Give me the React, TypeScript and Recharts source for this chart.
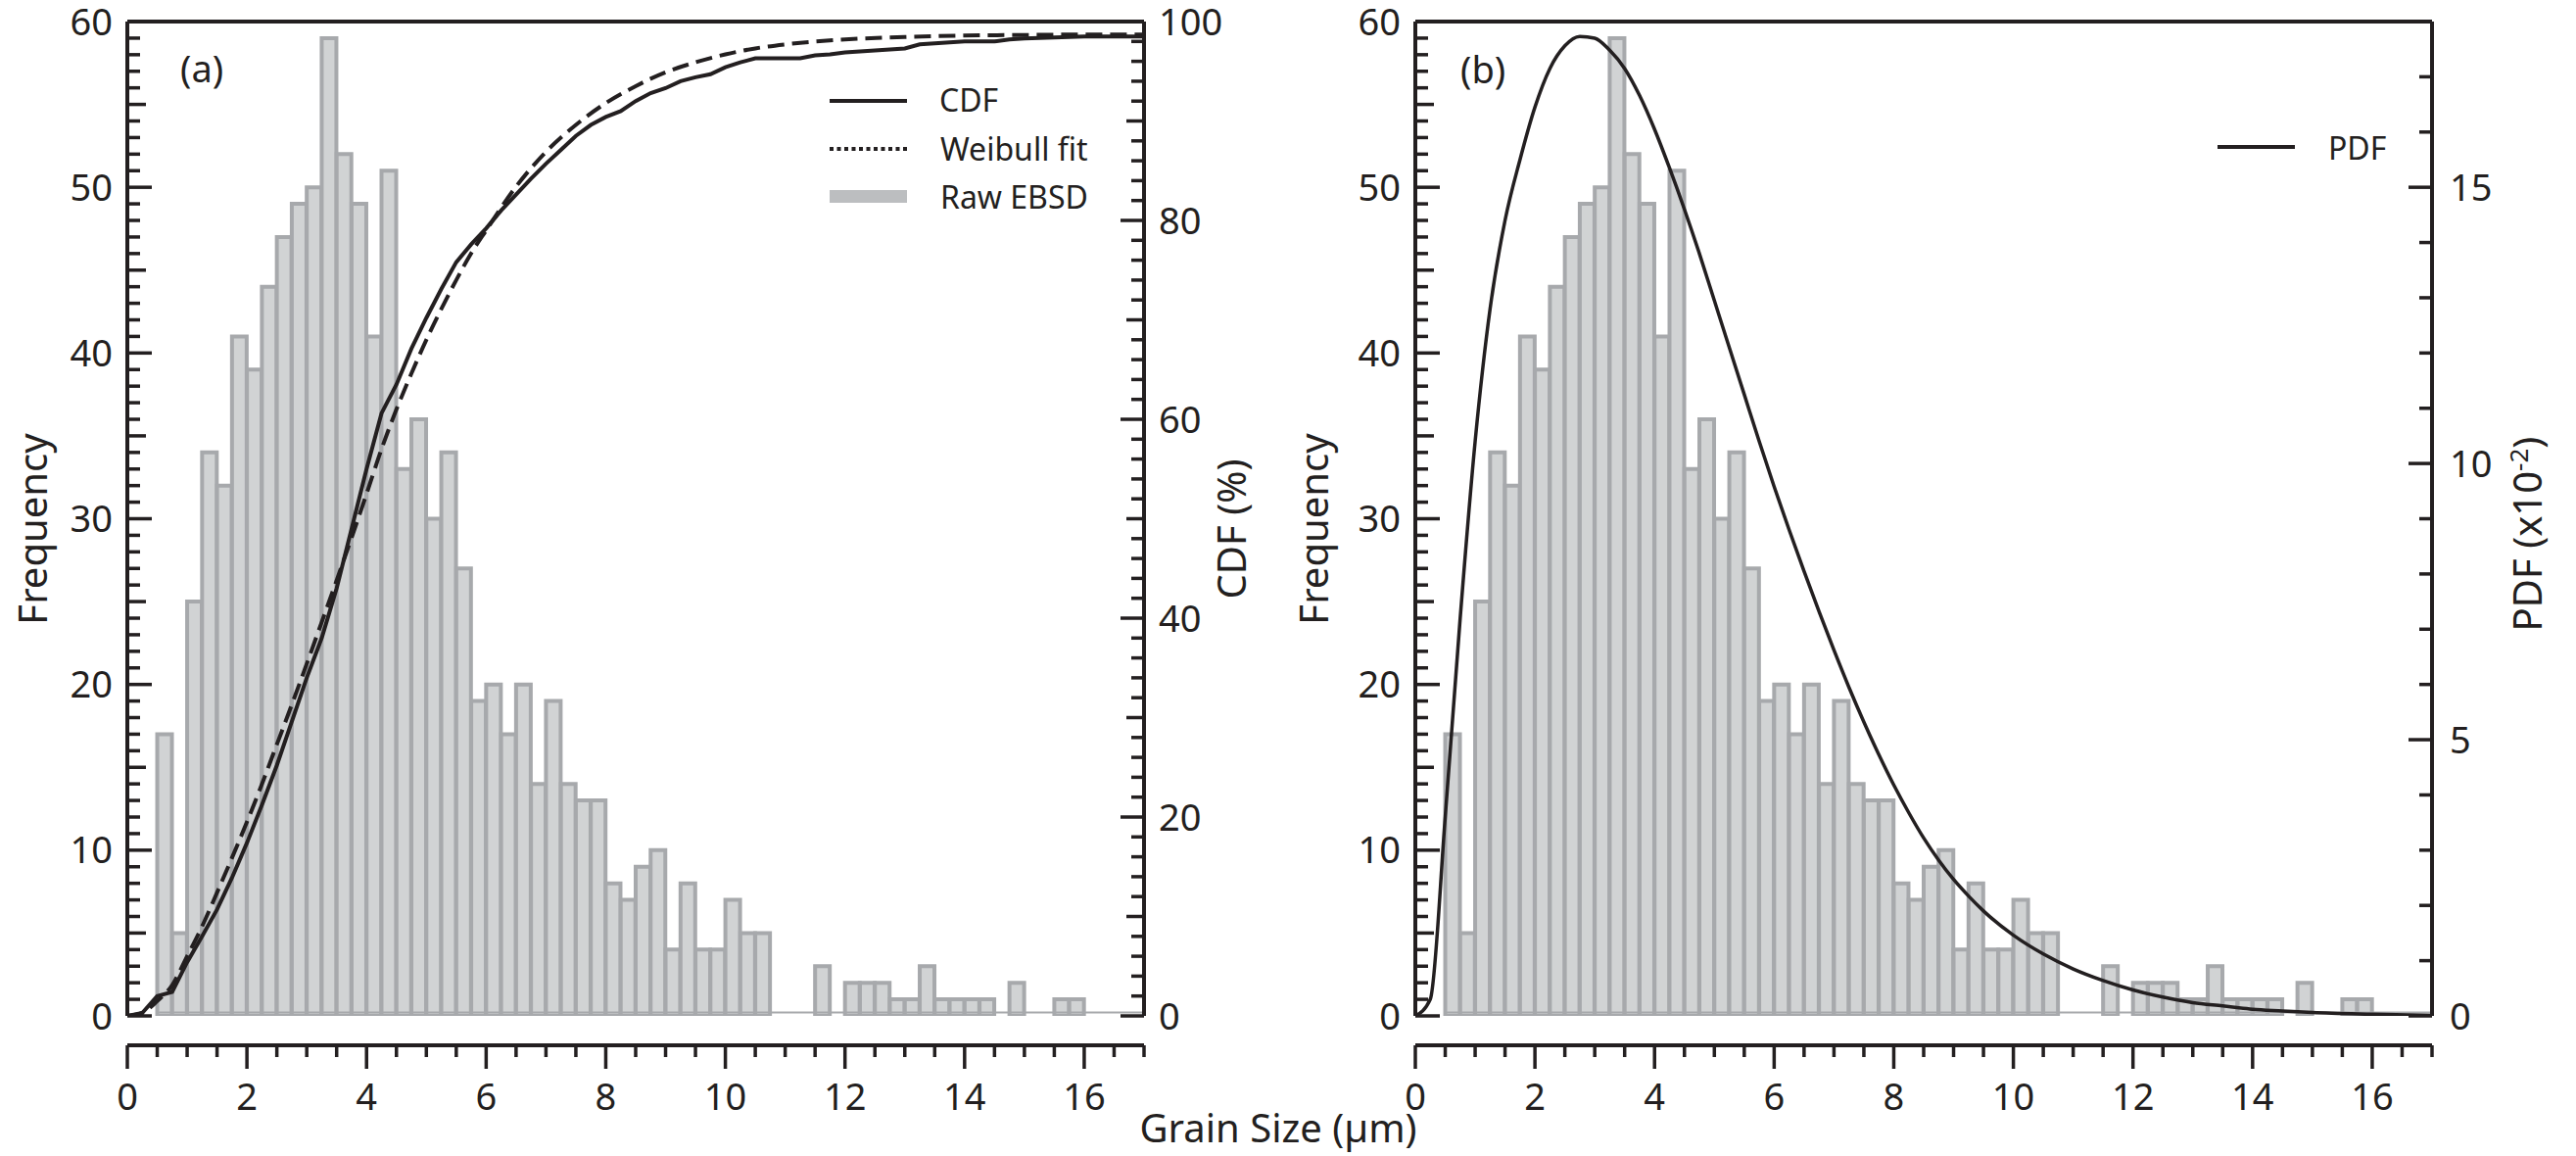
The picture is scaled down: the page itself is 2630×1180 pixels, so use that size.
import React from 'react';
import { ComposedChart, Bar, Line, XAxis, YAxis, ReferenceLine, Legend } from 'recharts';

// grain-size histogram: bins of 0.25 µm from 0 to 17 µm
const binWidth = 0.25;
const counts = [
  0, 0, 17, 5, 25, 34, 32, 41, 39, 44, 47, 49, 50, 59, 52, 49,
  41, 51, 33, 36, 30, 34, 27, 19, 20, 17, 20, 14, 19, 14, 13, 13,
  8, 7, 9, 10, 4, 8, 4, 4, 7, 5, 5, 0, 0, 0, 3, 0,
  2, 2, 2, 1, 1, 3, 1, 1, 1, 1, 0, 2, 0, 0, 1, 1,
  0, 0, 0, 0,
];

// empirical CDF (%)
const cdfGrain = [
  0, 0.25, 0.5, 0.75, 1, 1.25, 1.5, 1.75, 2, 2.25, 2.5, 2.75, 3, 3.25, 3.5, 3.75,
  4, 4.25, 4.5, 4.75, 5, 5.25, 5.5, 5.75, 6, 6.25, 6.5, 6.75, 7, 7.25, 7.5, 7.75,
  8, 8.25, 8.5, 8.75, 9, 9.25, 9.5, 9.75, 10, 10.25, 10.5, 10.75, 11, 11.25, 11.5, 11.75,
  12, 12.25, 12.5, 12.75, 13, 13.25, 13.5, 13.75, 14, 14.25, 14.5, 14.75, 15, 15.5, 16, 17,
];
const cdfValues = [
  0, 0.3, 2.0, 2.4, 5.4, 8.0, 10.7, 13.9, 17.4, 21.2, 25.2, 29.6, 34.0, 38.0, 43.0, 49.0,
  55.0, 60.6, 63.5, 67.1, 70.2, 73.1, 75.8, 77.6, 79.2, 81.0, 82.6, 84.2, 85.7, 87.1, 88.5, 89.6,
  90.4, 91.0, 92.0, 92.8, 93.3, 94.0, 94.4, 94.7, 95.4, 95.9, 96.3, 96.3, 96.3, 96.3, 96.6, 96.7,
  96.9, 97.0, 97.1, 97.2, 97.3, 97.7, 97.8, 97.9, 98.0, 98.0, 98.0, 98.2, 98.3, 98.4, 98.5, 98.5,
];

// Weibull fit CDF (%)
const weibullGrain = [
  0, 0.25, 0.5, 0.75, 1, 1.25, 1.5, 1.75, 2, 2.25, 2.5, 2.75, 3, 3.25, 3.5, 3.75,
  4, 4.25, 4.5, 4.75, 5, 5.25, 5.5, 5.75, 6, 6.5, 7, 7.5, 8, 8.5, 9, 9.5,
  10, 10.5, 11, 12, 13, 14, 15, 16, 17,
];
const weibullValues = [
  0, 0.3, 1.5, 3.1, 6.0, 9.0, 12.4, 15.9, 19.5, 23.3, 27.3, 31.3, 35.4, 39.6, 43.8, 48.1,
  52.5, 57.0, 61.0, 64.6, 68.0, 71.1, 74.0, 76.7, 79.0, 83.4, 86.9, 89.6, 91.8, 93.5, 94.9, 95.9,
  96.7, 97.3, 97.7, 98.2, 98.45, 98.6, 98.65, 98.7, 98.7,
];

// fitted PDF (x10^-2)
const pdfGrain = [
  0, 0.25, 0.5, 0.75, 1, 1.25, 1.5, 1.75, 2, 2.25, 2.5, 2.75, 3, 3.25, 3.5, 3.75,
  4, 4.25, 4.5, 4.75, 5, 5.25, 5.5, 5.75, 6, 6.25, 6.5, 6.75, 7, 7.25, 7.5, 7.75,
  8, 8.25, 8.5, 8.75, 9, 9.25, 9.5, 10, 10.5, 11, 11.5, 12, 12.5, 13, 13.5, 14,
  14.5, 15, 16, 17,
];
const pdfValues = [
  0, 0.3, 3.6, 7.2, 10.4, 12.8, 14.4, 15.5, 16.45, 17.15, 17.56, 17.73, 17.7, 17.48, 17.15, 16.66,
  16.05, 15.35, 14.6, 13.8, 12.95, 12.1, 11.25, 10.4, 9.58, 8.8, 8.05, 7.32, 6.62, 5.95, 5.32, 4.73,
  4.18, 3.68, 3.22, 2.82, 2.47, 2.17, 1.9, 1.46, 1.12, 0.85, 0.64, 0.47, 0.34, 0.24, 0.18, 0.12,
  0.09, 0.06, 0.03, 0.01,
];

const histData = counts.map((count, i) => ({ bin: (i + 0.5) * binWidth, count }));
const cdfData = cdfGrain.map((grain, i) => ({ grain, cdf: cdfValues[i] }));
const weibullData = weibullGrain.map((grain, i) => ({ grain, fit: weibullValues[i] }));
const pdfData = pdfGrain.map((grain, i) => ({ grain, pdf: pdfValues[i] }));

const INK = '#231f20';
const BAR_FILL = '#d1d3d4';
const BAR_EDGE = '#a7a9ac';
const FONT = "'Noto Sans', 'DejaVu Sans', sans-serif";
const H = 1180;
const X_MAX = 17;

const range = (from: number, to: number, step: number) => {
  const out: number[] = [];
  for (let v = from; v <= to + 1e-9; v += step) out.push(Math.round(v * 100) / 100);
  return out;
};
const xTicks = range(0, X_MAX, 0.5);
const freqTicks = range(0, 60, 1);
const cdfTicks = range(0, 100, 2);
const pdfTicks = range(0, 18, 1);

const labelStyle = { fontFamily: FONT, fontSize: 38, fill: INK };

const BottomTick = ({ x, y, payload }: any) => {
  const v = payload.value;
  const major = v % 2 === 0;
  return (
    <g>
      <line x1={x} x2={x} y1={y} y2={y + (major ? 24 : 12)} stroke={INK} strokeWidth={3.5} />
      {major && v <= 16 && (
        <text x={x} y={y + 66} textAnchor="middle" {...labelStyle}>{v}</text>
      )}
    </g>
  );
};

const LeftTick = ({ x, y, payload }: any) => {
  const v = payload.value;
  const len = v % 10 === 0 ? 25 : v % 5 === 0 ? 19 : 13;
  return (
    <g>
      <line x1={x} x2={x + len} y1={y} y2={y} stroke={INK} strokeWidth={3.5} />
      {v % 10 === 0 && (
        <text x={x - 15} y={y + 13.5} textAnchor="end" {...labelStyle}>{v}</text>
      )}
    </g>
  );
};

const CdfTick = ({ x, y, payload }: any) => {
  const v = payload.value;
  const len = v % 20 === 0 ? 24 : v % 10 === 0 ? 18 : 13;
  return (
    <g>
      <line x1={x} x2={x - len} y1={y} y2={y} stroke={INK} strokeWidth={3.5} />
      {v % 20 === 0 && (
        <text x={x + 15} y={y + 13.5} textAnchor="start" {...labelStyle}>{v}</text>
      )}
    </g>
  );
};

const PdfTick = ({ x, y, payload }: any) => {
  const v = payload.value;
  const major = v % 5 === 0;
  return (
    <g>
      <line x1={x} x2={x - (major ? 24 : 13)} y1={y} y2={y} stroke={INK} strokeWidth={3.5} />
      {major && (
        <text x={x + 18} y={y + 13.5} textAnchor="start" {...labelStyle}>{v}</text>
      )}
    </g>
  );
};

const legendText = { fontFamily: FONT, fontSize: 32, fill: INK };

const LegendA = () => (
  <svg width={340} height={150}>
    <line x1={7} x2={86} y1={23} y2={23} stroke={INK} strokeWidth={4} />
    <text x={119} y={34} {...legendText}>CDF</text>
    <line x1={7} x2={86} y1={72} y2={72} stroke={INK} strokeWidth={4} strokeDasharray="4 3.5" />
    <text x={120} y={84} {...legendText}>Weibull fit</text>
    <rect x={7} y={114} width={79} height={13} fill="#bcbec0" />
    <text x={120} y={133} {...legendText}>Raw EBSD</text>
  </svg>
);

const LegendB = () => (
  <svg width={200} height={60}>
    <line x1={4} x2={83} y1={30} y2={30} stroke={INK} strokeWidth={4} />
    <text x={117} y={43} {...legendText}>PDF</text>
  </svg>
);

const axisLine = { stroke: INK, strokeWidth: 4 };

function gridAxes() {
  return [
    <XAxis key="bins" xAxisId="bins" dataKey="bin" type="category" hide />,
    <XAxis
      key="num"
      xAxisId="num"
      dataKey="grain"
      type="number"
      domain={[0, X_MAX]}
      allowDataOverflow
      ticks={xTicks}
      interval={0}
      tickSize={0}
      tickMargin={0}
      height={60}
      tick={BottomTick}
      axisLine={axisLine}
    />,
    <YAxis
      key="freq"
      yAxisId="freq"
      orientation="left"
      domain={[0, 60]}
      allowDataOverflow
      ticks={freqTicks}
      interval={0}
      tickSize={0}
      tickMargin={0}
      width={110}
      tick={LeftTick}
      axisLine={axisLine}
    />,
  ];
}

function histogram() {
  return [
    <ReferenceLine
      key="base"
      xAxisId="num"
      yAxisId="freq"
      segment={[{ x: 0.5, y: 0.2 }, { x: X_MAX, y: 0.2 }]}
      stroke={BAR_EDGE}
      strokeWidth={2}
    />,
    <Bar
      key="bars"
      xAxisId="bins"
      yAxisId="freq"
      dataKey="count"
      fill={BAR_FILL}
      stroke={BAR_EDGE}
      strokeWidth={4}
      isAnimationActive={false}
    />,
  ];
}

function PanelA() {
  return (
    <ComposedChart
      width={1310}
      height={H}
      data={histData}
      barCategoryGap={0}
      barGap={0}
      margin={{ top: 22, right: 22, bottom: 83, left: 20 }}
    >
      {gridAxes()}
      <YAxis
        yAxisId="cdf"
        orientation="right"
        domain={[0, 100]}
        allowDataOverflow
        ticks={cdfTicks}
        interval={0}
        tickSize={0}
        tickMargin={0}
        width={120}
        tick={CdfTick}
        axisLine={axisLine}
      />
      {histogram()}
      <Line
        xAxisId="num"
        yAxisId="cdf"
        data={weibullData}
        dataKey="fit"
        type="monotone"
        stroke={INK}
        strokeWidth={4}
        strokeDasharray="17 8"
        dot={false}
        isAnimationActive={false}
      />
      <Line
        xAxisId="num"
        yAxisId="cdf"
        data={cdfData}
        dataKey="cdf"
        type="linear"
        stroke={INK}
        strokeWidth={4}
        dot={false}
        isAnimationActive={false}
      />
      <ReferenceLine xAxisId="num" yAxisId="cdf" y={100} stroke={INK} strokeWidth={4} />
      <Legend
        layout="vertical"
        align="center"
        verticalAlign="middle"
        content={() => <LegendA />}
        wrapperStyle={{ left: 840, top: 80, width: 340, height: 150 }}
      />
    </ComposedChart>
  );
}

function PanelB() {
  return (
    <ComposedChart
      width={1320}
      height={H}
      data={histData}
      barCategoryGap={0}
      barGap={0}
      margin={{ top: 22, right: 27, bottom: 83, left: 25 }}
    >
      {gridAxes()}
      <YAxis
        yAxisId="pdf"
        orientation="right"
        domain={[0, 18]}
        allowDataOverflow
        ticks={pdfTicks}
        interval={0}
        tickSize={0}
        tickMargin={0}
        width={120}
        tick={PdfTick}
        axisLine={axisLine}
      />
      {histogram()}
      <Line
        xAxisId="num"
        yAxisId="pdf"
        data={pdfData}
        dataKey="pdf"
        type="monotone"
        stroke={INK}
        strokeWidth={3.5}
        dot={false}
        isAnimationActive={false}
      />
      <ReferenceLine xAxisId="num" yAxisId="pdf" y={18} stroke={INK} strokeWidth={4} />
      <Legend
        layout="vertical"
        align="center"
        verticalAlign="middle"
        content={() => <LegendB />}
        wrapperStyle={{ left: 950, top: 120, width: 200, height: 60 }}
      />
    </ComposedChart>
  );
}

const titleStyle = { fontFamily: FONT, fontSize: 40, fill: INK };

export default function App() {
  return (
    <div style={{ position: 'absolute', left: 0, top: 0, width: 2630, height: H, background: '#fff' }}>
      <div style={{ position: 'absolute', left: 0, top: 0 }}>
        <PanelA />
      </div>
      <div style={{ position: 'absolute', left: 1310, top: 0 }}>
        <PanelB />
      </div>
      <svg
        width={2630}
        height={H}
        style={{ position: 'absolute', left: 0, top: 0, pointerEvents: 'none' }}
      >
        <text x={184} y={84} {...titleStyle} fontSize={38}>(a)</text>
        <text x={1491} y={85} {...titleStyle} fontSize={38}>(b)</text>
        <text x={48} y={540} textAnchor="middle" transform="rotate(-90 48 540)" {...titleStyle}>
          Frequency
        </text>
        <text x={1356} y={540} textAnchor="middle" transform="rotate(-90 1356 540)" {...titleStyle}>
          Frequency
        </text>
        <text x={1272} y={540} textAnchor="middle" transform="rotate(-90 1272 540)" {...titleStyle}>
          CDF (%)
        </text>
        <text x={2595} y={545} textAnchor="middle" transform="rotate(-90 2595 545)" {...titleStyle}>
          PDF (x10<tspan dy={-14} fontSize={26}>-2</tspan><tspan dy={14}>)</tspan>
        </text>
        <text x={1305} y={1166} textAnchor="middle" {...titleStyle}>
          Grain Size (µm)
        </text>
      </svg>
    </div>
  );
}
